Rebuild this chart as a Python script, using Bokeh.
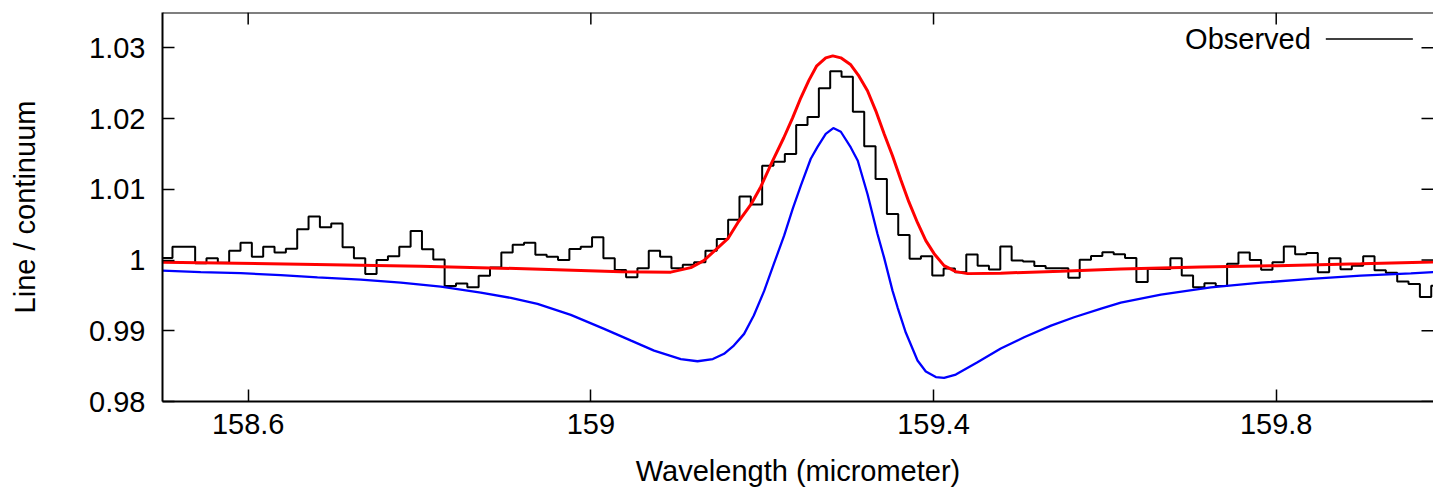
from bokeh.plotting import figure
from bokeh.models import FixedTicker, Label, Arrow, Range1d, Span, ColumnDataSource
from bokeh.embed import file_html
from bokeh.resources import INLINE

# ---------------- data ----------------
# observed spectrum: uniform bins (start wavelength, bin width) and binned flux
WAVE_START = 158.4984
BIN_WIDTH = 0.013237
FLUX = [
    1.0003, 1.00189, 1.00189, 0.99953, 1.00024, 0.99963, 1.00133, 1.00246, 1.00048, 1.00189,
    1.00105, 1.00161, 1.00434, 1.00617, 1.00462, 1.00518, 1.00182, 1.00027, 0.99804, 0.99999,
    1.00055, 1.00189, 1.00411, 1.00154, 1.00006, 0.99634, 0.99667, 0.99614, 0.99777, 0.99893,
    1.00105, 1.00218, 1.00246, 1.00076, 1.00048, 1.00001, 1.00157, 1.00189, 1.00321, 1.00024,
    0.99860, 0.99756, 0.99883, 1.00133, 1.00048, 0.99883, 0.99935, 0.99968, 1.00133, 1.00298,
    1.00568, 1.00898, 1.00787, 1.01333, 1.01390, 1.01499, 1.01910, 1.02021, 1.02428, 1.02671,
    1.02593, 1.02096, 1.01609, 1.01145, 1.00651, 1.00355, 1.00020, 1.00052, 0.99780, 0.99879,
    0.99829, 1.00079, 0.99921, 0.99867, 1.00192, 0.99992, 0.99980, 0.99917, 0.99883, 0.99883,
    0.99751, 1.00003, 1.00058, 1.00109, 1.00083, 1.00030, 0.99691, 0.99874, 0.99874, 1.00024,
    0.99780, 0.99614, 0.99671, 0.99634, 0.99949, 1.00105, 1.00001, 0.99864, 0.99968, 1.00193,
    1.00083, 1.00100, 0.99826, 1.00024, 0.99869, 0.99921, 1.00055, 0.99857, 0.99822, 0.99695,
    0.99662, 0.99476, 0.99638,
]

# red model curve
RED_WAVE = [158.5000, 158.6614, 158.8015, 158.9416, 159.0350, 159.0933, 159.1167, 159.1318,
            159.1459, 159.1599, 159.1715, 159.1867, 159.1984, 159.2112, 159.2252, 159.2355,
            159.2451, 159.2545, 159.2637, 159.2742, 159.2824, 159.2918, 159.3034, 159.3130,
            159.3229, 159.3326, 159.3423, 159.3521, 159.3618, 159.3711, 159.3813, 159.3910,
            159.4007, 159.4123, 159.4260, 159.4397, 159.4785, 159.5486, 159.6186, 159.7120,
            159.8015, 159.8987, 159.9933]
RED_VALUE = [0.99968, 0.99942, 0.99914, 0.99871, 0.99836, 0.99829, 0.99893, 0.99992,
             1.00147, 1.00302, 1.00528, 1.00782, 1.01037, 1.01376, 1.01729, 1.02010,
             1.02294, 1.02540, 1.02746, 1.02859, 1.02887, 1.02859, 1.02760, 1.02600,
             1.02393, 1.02110, 1.01785, 1.01475, 1.01136, 1.00825, 1.00528, 1.00274,
             1.00090, 0.99921, 0.99836, 0.99808, 0.99815, 0.99843, 0.99874, 0.99900,
             0.99921, 0.99949, 0.99977]

# blue model curve
BLUE_WAVE = [158.5000, 158.5446, 158.5913, 158.6380, 158.6809, 158.7314, 158.7782, 158.8249,
             158.8715, 158.9066, 158.9377, 158.9766, 159.0155, 159.0470, 159.0738, 159.1050,
             159.1245, 159.1424, 159.1555, 159.1669, 159.1789, 159.1902, 159.2022, 159.2136,
             159.2256, 159.2357, 159.2451, 159.2567, 159.2646, 159.2742, 159.2830, 159.2918,
             159.3034, 159.3116, 159.3229, 159.3346, 159.3423, 159.3521, 159.3580, 159.3676,
             159.3813, 159.3910, 159.4027, 159.4123, 159.4260, 159.4513, 159.4785, 159.5057,
             159.5372, 159.5641, 159.5956, 159.6186, 159.6654, 159.7237, 159.7821, 159.8404,
             159.8988, 159.9572, 159.9933]
BLUE_VALUE = [0.99850, 0.99829, 0.99815, 0.99787, 0.99756, 0.99723, 0.99681, 0.99624,
              0.99540, 0.99465, 0.99380, 0.99224, 0.99027, 0.98860, 0.98720, 0.98600,
              0.98569, 0.98600, 0.98674, 0.98791, 0.98956, 0.99215, 0.99560, 0.99945,
              1.00345, 1.00726, 1.01051, 1.01432, 1.01600, 1.01785, 1.01866, 1.01814,
              1.01592, 1.01404, 1.00934, 1.00369, 1.00034, 0.99568, 0.99332, 0.98975,
              0.98579, 0.98424, 0.98346, 0.98335, 0.98381, 0.98555, 0.98749, 0.98908,
              0.99073, 0.99191, 0.99314, 0.99398, 0.99511, 0.99614, 0.99680, 0.99733,
              0.99780, 0.99812, 0.99836]

X_TICKS = [158.6, 159.0, 159.4, 159.8]
X_TICK_LABELS = ["158.6", "159", "159.4", "159.8"]
Y_TICKS = [0.98, 0.99, 1.0, 1.01, 1.02, 1.03]
Y_TICK_LABELS = ["0.98", "0.99", "1", "1.01", "1.02", "1.03"]
X_LABEL = "Wavelength (micrometer)"
Y_LABEL = "Line / continuum"
LEGEND_LABEL = "Observed"

# ---------------- layout ----------------
FONT = "Liberation Sans"
W, H = 1433, 489
BORDER_L, BORDER_T, BORDER_B = 162, 12, 88
X0, PX_PER_X = 158.5, 856.7
Y0, Y1 = 0.98, 1.035
X1 = X0 + (W - BORDER_L) / PX_PER_X
PX_PER_Y = (H - BORDER_T - BORDER_B) / (Y1 - Y0)
TICK_LEN = 12

p = figure(width=W, height=H, output_backend="svg", toolbar_location=None,
           x_range=Range1d(X0, X1), y_range=Range1d(Y0, Y1),
           min_border_left=BORDER_L, min_border_right=0, min_border_top=BORDER_T,
           min_border_bottom=BORDER_B)
p.background_fill_color = "white"
p.border_fill_color = "white"
p.outline_line_color = None
p.xgrid.visible = False
p.ygrid.visible = False

# observed step histogram (left edges + closing edge)
edges = [WAVE_START + BIN_WIDTH * i for i in range(len(FLUX) + 1)]
p.step(edges, FLUX + [FLUX[-1]], mode="after", line_color="black", line_width=2)
p.line(BLUE_WAVE, BLUE_VALUE, line_color="#0000ff", line_width=2.3)
p.line(RED_WAVE, RED_VALUE, line_color="#ff0000", line_width=3)

# axes
for ax in (p.xaxis[0], p.yaxis[0]):
    ax.axis_line_color = "black"
    ax.axis_line_width = 2
    ax.major_tick_line_color = "black"
    ax.major_tick_line_width = 1.5
    ax.major_tick_in = TICK_LEN
    ax.major_tick_out = 0
    ax.minor_tick_line_color = None
    ax.major_label_text_font = FONT
    ax.major_label_text_font_size = "29px"
    ax.major_label_text_color = "black"
    ax.axis_label_text_font = FONT
    ax.axis_label_text_font_size = "29px"
    ax.axis_label_text_font_style = "normal"
    ax.axis_label_text_color = "black"

xa = p.xaxis[0]
xa.ticker = FixedTicker(ticks=X_TICKS)
xa.major_label_overrides = dict(zip(X_TICKS, X_TICK_LABELS))
xa.axis_label = X_LABEL
xa.major_label_standoff = 12
xa.axis_label_standoff = 18

ya = p.yaxis[0]
ya.ticker = FixedTicker(ticks=Y_TICKS)
ya.major_label_overrides = dict(zip(Y_TICKS, Y_TICK_LABELS))
ya.axis_label = Y_LABEL
ya.major_label_standoff = 17
ya.axis_label_standoff = 45

# mirrored inward ticks on top and right, top border line
p.add_layout(Span(location=Y1, dimension="width", line_color="black", line_width=2))
tick_dy = TICK_LEN / PX_PER_Y
tick_dx = TICK_LEN / PX_PER_X
top_src = ColumnDataSource(dict(x=X_TICKS, y0=[Y1] * len(X_TICKS), y1=[Y1 - tick_dy] * len(X_TICKS)))
p.segment(x0="x", y0="y0", x1="x", y1="y1", source=top_src, line_color="black", line_width=1.5)
right_src = ColumnDataSource(dict(y=Y_TICKS, x0=[X1] * len(Y_TICKS), x1=[X1 - tick_dx] * len(Y_TICKS)))
p.segment(x0="x0", y0="y", x1="x1", y1="y", source=right_src, line_color="black", line_width=1.5)

# legend (text on the left, sample line on the right)
p.add_layout(Label(x=159.8404, y=1.03127, text=LEGEND_LABEL, text_align="right",
                   text_baseline="middle", text_font=FONT, text_font_size="29px",
                   text_color="black"))
p.add_layout(Arrow(end=None, x_start=159.8579, y_start=1.03127, x_end=159.9595, y_end=1.03127,
                   line_color="black", line_width=1.5))

open("out.html", "w").write(file_html(p, INLINE))
